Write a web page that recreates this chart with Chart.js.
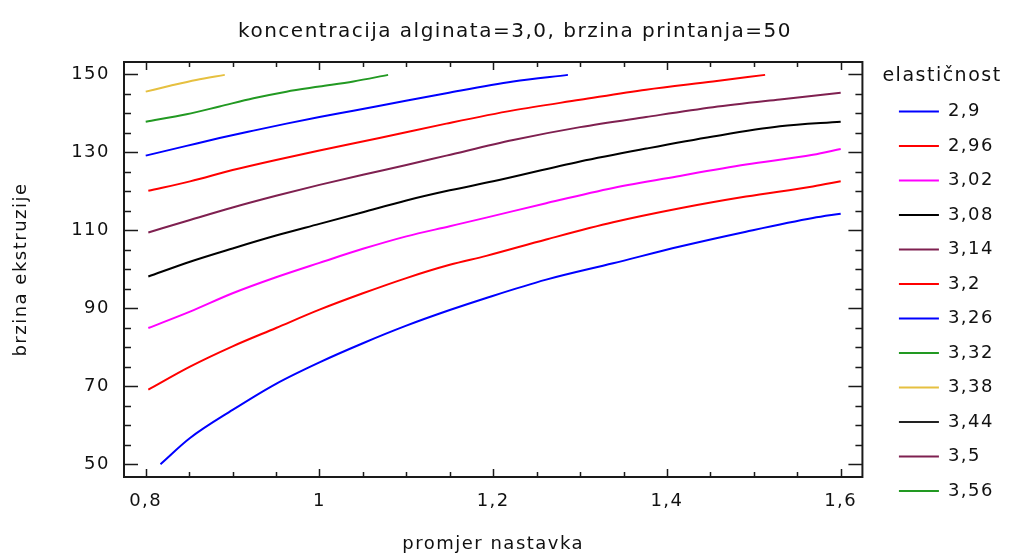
<!DOCTYPE html>
<html>
<head>
<meta charset="utf-8">
<script src="https://cdn.jsdelivr.net/npm/chart.js@4.4.1/dist/chart.umd.min.js"></script>
<style>
  html, body { margin: 0; padding: 0; background: #fff; }
</style>
</head>
<body>
<canvas id="contour" width="1019" height="555"></canvas>
<script>
// contour levels (elasticnost) and their colours
const levels = [2.9, 2.96, 3.02, 3.08, 3.14, 3.2, 3.26, 3.32, 3.38, 3.44, 3.5, 3.56];
const lineColors = ["#0000ff", "#ff0000", "#ff00ff", "#000000", "#7f2050", "#ff0000",
                    "#0000ff", "#229922", "#e6c040", "#222222", "#7f2050", "#229922"];

// promjer nastavka (d) and brzina ekstruzije (v) along each contour line
const d290 = [0.817, 0.851, 0.9, 0.95, 1.0, 1.05, 1.1, 1.15, 1.192, 1.261, 1.338, 1.415, 1.491, 1.568, 1.6];
const v290 = [50.0, 56.7, 63.9, 70.6, 76.1, 81.0, 85.5, 89.5, 92.6, 97.3, 101.5, 105.8, 109.6, 113.1, 114.2];
const d296 = [0.803, 0.851, 0.9, 0.95, 1.0, 1.05, 1.1, 1.15, 1.192, 1.261, 1.338, 1.415, 1.491, 1.568, 1.6];
const v296 = [69.1, 75.0, 80.2, 84.9, 89.6, 93.8, 97.7, 101.1, 103.4, 107.6, 112.0, 115.6, 118.6, 121.2, 122.5];
const d302 = [0.803, 0.851, 0.9, 0.95, 1.0, 1.05, 1.1, 1.15, 1.192, 1.261, 1.338, 1.415, 1.491, 1.568, 1.6];
const v302 = [84.9, 89.1, 93.8, 97.9, 101.6, 105.2, 108.4, 111.0, 113.2, 116.9, 120.8, 123.9, 126.8, 129.3, 130.8];
const d308 = [0.803, 0.851, 0.9, 0.95, 1.0, 1.05, 1.1, 1.15, 1.2, 1.3, 1.376, 1.453, 1.53, 1.6];
const v308 = [98.1, 101.9, 105.3, 108.6, 111.6, 114.6, 117.6, 120.2, 122.5, 127.6, 130.9, 134.0, 136.6, 137.8];
const d314 = [0.803, 0.851, 0.9, 0.95, 1.0, 1.05, 1.1, 1.146, 1.223, 1.3, 1.376, 1.453, 1.53, 1.6];
const v314 = [109.4, 112.6, 115.8, 118.8, 121.6, 124.2, 126.7, 129.1, 133.1, 136.4, 139.0, 141.5, 143.5, 145.2];
const d320 = [0.803, 0.851, 0.9, 0.95, 1.0, 1.069, 1.146, 1.223, 1.3, 1.376, 1.453, 1.513];
const v320 = [120.1, 122.5, 125.4, 128.0, 130.4, 133.6, 137.3, 140.7, 143.4, 146.0, 148.1, 149.8];
const d326 = [0.8, 0.847, 0.885, 0.924, 0.962, 1.0, 1.039, 1.077, 1.146, 1.223, 1.286];
const v326 = [129.1, 131.6, 133.6, 135.5, 137.3, 139.0, 140.6, 142.2, 145.1, 148.1, 149.8];
const d332 = [0.8, 0.847, 0.885, 0.924, 0.962, 1.0, 1.039, 1.079];
const v332 = [137.8, 139.7, 141.7, 143.8, 145.5, 146.8, 148.1, 149.8];
const d338 = [0.8, 0.828, 0.858, 0.891];
const v338 = [145.5, 147.0, 148.5, 149.8];

const contourD = [d290, d296, d302, d308, d314, d320, d326, d332, d338, [], [], []];
const contourV = [v290, v296, v302, v308, v314, v320, v326, v332, v338, [], [], []];

// axis ticks
const xTicks = [0.8, 1, 1.2, 1.4, 1.6];
const yTicks = [50, 70, 90, 110, 130, 150];
const xMinorStep = 0.05;
const yMinorStep = 5;

const FONT = "'DejaVu Sans', sans-serif";
const INK = "#111";

const datasets = levels.map((lvl, i) => ({
  label: String(lvl).replace(".", ","),
  data: contourD[i].map((d, j) => ({ x: d, y: contourV[i][j] })),
  borderColor: lineColors[i],
  backgroundColor: lineColors[i],
  borderWidth: 2,
  pointRadius: 0,
  cubicInterpolationMode: "monotone",
  fill: false
}));

// the reference text is set wide, so space the letters out a little
const wideText = {
  id: "wideText",
  beforeUpdate(chart) { chart.ctx.letterSpacing = "1.5px"; }
};

// frame round the plot with inward tick marks on all four sides
const frameTicks = {
  id: "frameTicks",
  afterDatasetsDraw(chart) {
    const { ctx, chartArea: a, scales: { x, y } } = chart;
    ctx.save();
    ctx.strokeStyle = "#1a1a1a";
    ctx.lineWidth = 1.5;
    ctx.beginPath();
    const nx = Math.round((xTicks[xTicks.length - 1] - xTicks[0]) / xMinorStep);
    for (let i = 0; i <= nx; i++) {
      const v = xTicks[0] + i * xMinorStep;
      const px = Math.round(x.getPixelForValue(v)) + 0.5;
      const len = xTicks.some(t => Math.abs(t - v) < 1e-6) ? 8 : 5;
      ctx.moveTo(px, a.bottom); ctx.lineTo(px, a.bottom - len);
      ctx.moveTo(px, a.top); ctx.lineTo(px, a.top + len);
    }
    const ny = Math.round((yTicks[yTicks.length - 1] - yTicks[0]) / yMinorStep);
    for (let i = 0; i <= ny; i++) {
      const v = yTicks[0] + i * yMinorStep;
      const py = Math.round(y.getPixelForValue(v)) + 0.5;
      const len = yTicks.includes(v) ? 14 : 7;
      ctx.moveTo(a.left, py); ctx.lineTo(a.left + len, py);
      ctx.moveTo(a.right, py); ctx.lineTo(a.right - len, py);
    }
    ctx.stroke();
    ctx.lineWidth = 2;
    ctx.strokeRect(a.left, a.top, a.right - a.left, a.bottom - a.top);
    ctx.restore();
  }
};

// empty spacer axes: one between plot and legend, one outside the legend
const spacer = (w, weight) => ({
  type: "linear",
  position: "right",
  weight: weight,
  afterFit: s => { s.width = w; },
  grid: { display: false, drawTicks: false },
  border: { display: false },
  ticks: { display: false }
});

new Chart(document.getElementById("contour"), {
  type: "line",
  data: { datasets },
  plugins: [wideText, frameTicks],
  options: {
    responsive: false,
    animation: false,
    layout: { padding: { left: 11, right: 0, top: 0, bottom: 0 } },
    scales: {
      x: {
        type: "linear",
        min: 0.775,
        max: 1.625,
        afterBuildTicks: s => { s.ticks = xTicks.map(v => ({ value: v })); },
        afterFit: s => { s.height = 78; },
        grid: { display: false, drawTicks: false },
        border: { display: false },
        ticks: {
          padding: 14,
          color: INK,
          font: { family: FONT, size: 18 },
          callback: v => String(v).replace(".", ",")
        },
        title: {
          display: true,
          text: "promjer nastavka",
          color: INK,
          font: { family: FONT, size: 18 },
          padding: { top: 0, bottom: 0 }
        }
      },
      y: {
        min: 46.7,
        max: 153.1,
        afterBuildTicks: s => { s.ticks = yTicks.map(v => ({ value: v })); },
        afterFit: s => { s.width = 113; },
        grid: { display: false, drawTicks: false },
        border: { display: false },
        ticks: {
          padding: 14,
          color: INK,
          font: { family: FONT, size: 18 }
        },
        title: {
          display: true,
          text: "brzina ekstruzije",
          color: INK,
          font: { family: FONT, size: 18 },
          padding: { top: 0, bottom: 0 }
        }
      },
      gapInner: spacer(20, 0),
      gapOuter: spacer(15, 2000)
    },
    plugins: {
      title: {
        display: true,
        text: "koncentracija alginata=3,0, brzina printanja=50",
        color: INK,
        font: { family: FONT, size: 20, weight: "normal" },
        padding: { top: 20, bottom: 18 }
      },
      legend: {
        position: "right",
        align: "start",
        title: {
          display: true,
          text: "elastičnost",
          position: "start",
          color: INK,
          font: { family: FONT, size: 19, lineHeight: 1 },
          padding: { top: 67, bottom: 0 }
        },
        labels: {
          usePointStyle: true,
          pointStyle: "line",
          pointStyleWidth: 40,
          padding: 16.5,
          color: INK,
          font: { family: FONT, size: 18 }
        }
      },
      tooltip: { enabled: false }
    }
  }
});
</script>
</body>
</html>
